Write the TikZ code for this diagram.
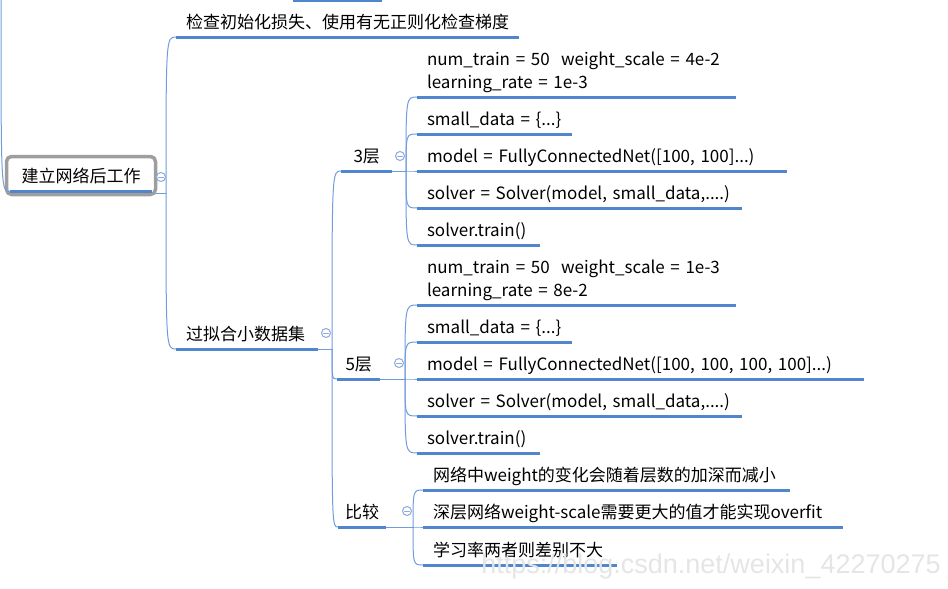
\documentclass[tikz,border=0pt]{standalone}
\usepackage{fontspec}
\setmainfont{Noto Sans CJK SC}
\newfontfamily\wmfont{Liberation Sans}
\definecolor{lineblue}{RGB}{79,134,206}
\definecolor{branchblue}{RGB}{112,156,222}
\definecolor{foldblue}{RGB}{140,170,222}
\definecolor{boxgray}{RGB}{158,158,158}
\tikzset{
    fold/.pic = {
    \draw[foldblue, fill=white, line width=1pt] (0,0) circle (4.5pt);
    \draw[foldblue, line width=1pt] (-2.5pt,0) -- (2.5pt,0);
    },
    topic/.style = {anchor=south west, inner xsep=10pt, inner ysep=4.5pt, outer sep=0pt,
        text height=13pt, text depth=4pt, text width=#1, align=left,
        font=\fontsize{17}{23}\selectfont},
    uline/.style = {draw=lineblue, line width=3pt, line cap=butt},
    branch/.style = {draw=branchblue, line width=1pt},
    bough/.style = {to path={.. controls (\tikztostart |- \tikztotarget) .. (\tikztotarget)}},
    wmark/.style = {anchor=base, inner sep=0pt, text=gray!20, font=\wmfont\fontsize{27}{29}\selectfont}
}
\begin{document}
\begin{tikzpicture}[x=1pt, y=-1pt, line cap=round, line join=round]
\useasboundingbox (0,0) rectangle (948,589);
% root topic
\node[draw=boxgray, line width=3.5pt, rounded corners=5pt, outer sep=0pt, minimum width=149pt,
    minimum height=38pt, font=\fontsize{17}{23}\selectfont] (root) at (81,175.5) {建立网络后工作};
\coordinate (rootl) at ([xshift=3.5pt,yshift=3pt]root.south west);
\coordinate (rootr) at ([xshift=-3.5pt,yshift=3pt]root.south east);
\draw[uline] (rootl) -- (rootr);
% parts cut off by the top edge
\coordinate (up) at (1,-5);
\coordinate (topl) at (293,0);
\coordinate (topr) at (382,0);
\draw[branch] (up) to[bough] (rootl);
\draw[uline] (topl) -- (topr);
% first level
\node[topic=323pt] (chk) at (176,37) {检查初始化损失、使用有无正则化检查梯度};
\node[topic=122pt] (ovf) at (176,349) {过拟合小数据集};
\coordinate (jroot) at (166,193);
\draw[branch] (root.east |- jroot) -- (jroot);
\draw[branch] (jroot) to[bough] (chk.south west);
\draw[branch] (jroot) to[bough] (ovf.south west);
% second level
\node[topic=26pt, inner xsep=12.5pt] (l3) at (341,171) {3层};
\node[topic=26pt, inner xsep=8.5pt] (l5) at (337,379) {5层};
\node[topic=34pt, inner xsep=7pt] (cmp) at (338,527) {比较};
\coordinate (jovf) at (332,349);
\draw[branch] (ovf.south east) -- (jovf);
\foreach \c in {l3,l5,cmp} \draw[branch] (jovf) to[bough] (\c.south west);
% 3 layers
\node[topic=299pt, text depth=27pt] (a3) at (417,97) {num\_train = 50~ weight\_scale = 4e-2\\learning\_rate = 1e-3};
\node[topic=135pt] (b3) at (417,134) {small\_data = \{...\}};
\node[topic=350pt] (c3) at (417,171) {model = FullyConnectedNet([100, 100]...)};
\node[topic=305pt] (d3) at (417,208) {solver = Solver(model, small\_data,....)};
\node[topic=103pt] (e3) at (417,245) {solver.train()};
\coordinate (j3) at (406,171);
\draw[branch] (l3.south east) -- (j3);
\foreach \c in {a3,b3,c3,d3,e3} \draw[branch] (j3) to[bough] (\c.south west);
% 5 layers
\node[topic=299pt, text depth=27pt] (a5) at (417,305) {num\_train = 50~ weight\_scale = 1e-3\\learning\_rate = 8e-2};
\node[topic=135pt] (b5) at (417,342) {small\_data = \{...\}};
\node[topic=427pt] (c5) at (417,379) {model = FullyConnectedNet([100, 100, 100, 100]...)};
\node[topic=305pt] (d5) at (417,416) {solver = Solver(model, small\_data,....)};
\node[topic=103pt] (e5) at (417,453) {solver.train()};
\coordinate (j5) at (405,379);
\draw[branch] (l5.south east) -- (j5);
\foreach \c in {a5,b5,c5,d5,e5} \draw[branch] (j5) to[bough] (\c.south west);
% comparison
\node[topic=347pt] (f1) at (423,490) {网络中weight的变化会随着层数的加深而减小};
\node[topic=400pt] (f2) at (423,527) {深层网络weight-scale需要更大的值才能实现overfit};
\node[topic=174pt] (f3) at (423,565) {学习率两者则差别不大};
\coordinate (jcmp) at (413,527);
\draw[branch] (cmp.south east) -- (jcmp);
\foreach \c in {f1,f2,f3} \draw[branch] (jcmp) to[bough] (\c.south west);
% underlines
\foreach \n in {chk,ovf,l3,l5,cmp,a3,b3,c3,d3,e3,a5,b5,c5,d5,e5,f1,f2,f3}
    \draw[uline] (\n.south west) -- (\n.south east);
% fold markers
\path (161,177) pic {fold};
\path (326,333) pic {fold};
\path (400,156) pic {fold};
\path (399,363) pic {fold};
\path (407,511) pic {fold};
% watermark
\node[wmark] (wm) at (711,573) {https://blog.csdn.net/weixin\_42270275};
\end{tikzpicture}
\end{document}
